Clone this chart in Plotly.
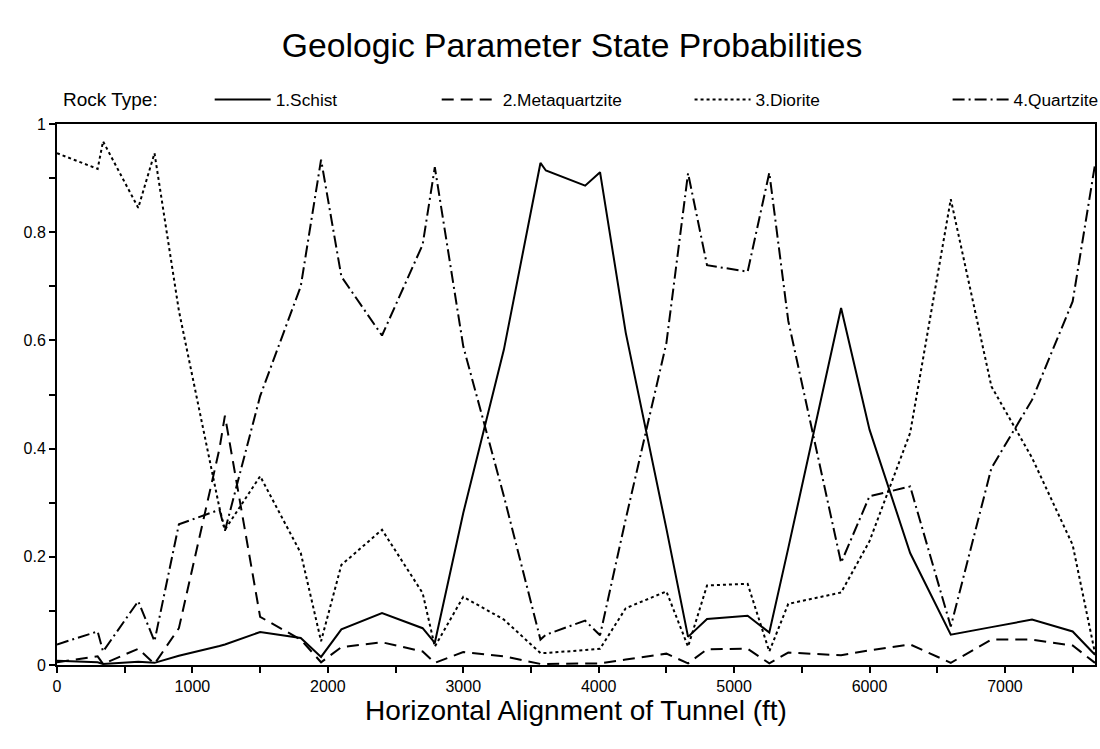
import plotly.graph_objects as go

# Station along tunnel alignment (ft)
station_ft = [0, 300, 340, 600, 720, 900, 1200, 1240, 1500, 1800, 1950, 2100, 2400, 2700,
              2790, 3000, 3300, 3570, 3610, 3900, 4010, 4200, 4500, 4660, 4800, 5100, 5260,
              5400, 5790, 6000, 6300, 6600, 6900, 7200, 7500, 7665]

schist = [0.008, 0.005, 0.002, 0.006, 0.004, 0.017, 0.035, 0.038, 0.061, 0.050, 0.015, 0.066,
          0.096, 0.068, 0.041, 0.281, 0.583, 0.928, 0.914, 0.886, 0.911, 0.614, 0.252, 0.052,
          0.085, 0.091, 0.060, 0.216, 0.660, 0.435, 0.207, 0.056, 0.070, 0.084, 0.062, 0.019]

metaquartzite = [0.005, 0.016, 0.002, 0.030, 0.002, 0.068, 0.400, 0.461, 0.089, 0.047, 0.005,
                 0.033, 0.042, 0.025, 0.004, 0.024, 0.016, 0.002, 0.002, 0.002, 0.003, 0.010,
                 0.021, 0.003, 0.029, 0.030, 0.003, 0.023, 0.018, 0.027, 0.038, 0.004, 0.047,
                 0.047, 0.036, 0.004]

diorite = [0.946, 0.917, 0.968, 0.845, 0.946, 0.655, 0.290, 0.250, 0.349, 0.207, 0.044, 0.185,
           0.250, 0.133, 0.034, 0.126, 0.084, 0.022, 0.022, 0.027, 0.030, 0.105, 0.136, 0.034,
           0.147, 0.150, 0.025, 0.113, 0.134, 0.229, 0.429, 0.861, 0.515, 0.383, 0.222, 0.022]

quartzite = [0.038, 0.062, 0.025, 0.118, 0.044, 0.260, 0.287, 0.248, 0.497, 0.700, 0.934, 0.718,
             0.609, 0.777, 0.920, 0.589, 0.312, 0.047, 0.056, 0.082, 0.055, 0.270, 0.595, 0.909,
             0.739, 0.727, 0.910, 0.636, 0.189, 0.312, 0.330, 0.071, 0.364, 0.490, 0.672, 0.925]

series_names = ["1.Schist", "2.Metaquartzite", "3.Diorite", "4.Quartzite"]
series_values = [schist, metaquartzite, diorite, quartzite]
dash_styles = ["solid", "12px,7px", "3px,3px", "12px,4px,2px,4px"]
legend_ids = ["legend", "legend2", "legend3", "legend4"]
legend_x = [0.1471, 0.3658, 0.6094, 0.8580]

FONT = "Liberation Sans, Arial, Helvetica, sans-serif"

fig = go.Figure()
for name, vals, dash, lg in zip(series_names, series_values, dash_styles, legend_ids):
    fig.add_trace(go.Scatter(
        x=station_ft, y=vals, mode="lines", name=name,
        line=dict(color="black", width=2, dash=dash),
        legend=lg,
    ))

legend_common = dict(orientation="h", yanchor="middle", xanchor="left", y=1.045,
                     bgcolor="rgba(0,0,0,0)", borderwidth=0,
                     font=dict(family=FONT, size=17.3, color="black"), itemwidth=56)
layout_legends = {}
for lg, lx in zip(legend_ids, legend_x):
    layout_legends[lg] = dict(legend_common, x=lx)

fig.update_layout(
    width=1100, height=749,
    paper_bgcolor="white", plot_bgcolor="white",
    margin=dict(l=57, r=5, t=124, b=84, autoexpand=False),
    title=dict(text="Geologic Parameter State Probabilities", x=0.52, xanchor="center",
               y=0.94, yanchor="middle",
               font=dict(family=FONT, size=33.7, color="black")),
    font=dict(family=FONT, color="black"),
    showlegend=True,
    **layout_legends,
)

fig.add_annotation(text="Rock Type:", xref="paper", yref="paper", x=0.004, y=1.045,
                   xanchor="left", yanchor="middle", showarrow=False,
                   font=dict(family=FONT, size=19, color="black"))

fig.update_xaxes(
    range=[0, 7665], showgrid=False, zeroline=False,
    showline=True, linecolor="black", linewidth=2, mirror=True,
    ticks="outside", ticklen=6, tickwidth=2, tickcolor="black",
    dtick=1000, tick0=0,
    minor=dict(dtick=500, tick0=0, ticks="outside", ticklen=6, tickwidth=2, tickcolor="black"),
    tickfont=dict(family=FONT, size=16, color="black"),
    title=dict(text="Horizontal Alignment of Tunnel (ft)", standoff=6,
               font=dict(family=FONT, size=28, color="black")),
)
fig.update_yaxes(
    range=[0, 1], showgrid=False, zeroline=False,
    showline=True, linecolor="black", linewidth=2, mirror=True,
    ticks="outside", ticklen=6, tickwidth=2, tickcolor="black",
    dtick=0.2, tick0=0,
    minor=dict(dtick=0.1, tick0=0, ticks="outside", ticklen=6, tickwidth=2, tickcolor="black"),
    tickfont=dict(family=FONT, size=16, color="black"),
)

fig.write_html("out.html", config={"displayModeBar": False},
               post_script="document.body.style.margin='0px';document.body.style.overflow='hidden';")
